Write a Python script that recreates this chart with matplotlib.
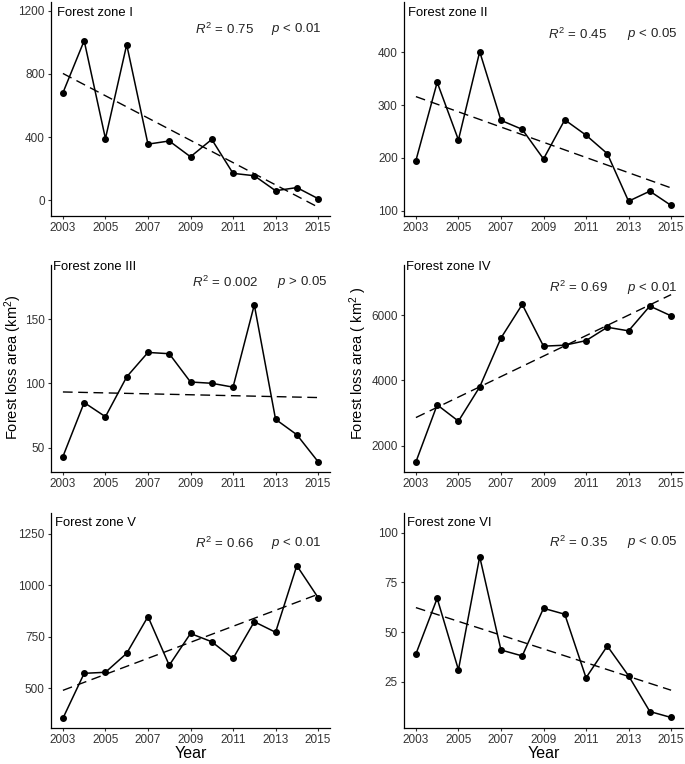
import numpy as np
import matplotlib
matplotlib.use("Agg")
import matplotlib.pyplot as plt

plt.rcParams['font.family'] = ['Liberation Sans', 'DejaVu Sans']
plt.rcParams['mathtext.fontset'] = 'custom'
plt.rcParams['mathtext.rm'] = 'Liberation Sans'
plt.rcParams['mathtext.it'] = 'Liberation Sans:italic'

years = np.arange(2003, 2016)

zona_1 = [680, 1010, 390, 985, 355, 375, 275, 385, 170, 155, 60, 80, 10]
zona_2 = [195, 343, 234, 401, 271, 254, 198, 272, 243, 208, 118, 137, 110]
zona_3 = [43, 85, 74, 105, 124, 123, 101, 100, 97, 161, 72, 60, 39]
zona_4 = [1500, 3250, 2750, 3800, 5300, 6330, 5050, 5080, 5220, 5630, 5520, 6280, 5980]
zona_5 = [355, 573, 578, 670, 848, 612, 766, 726, 645, 823, 772, 1095, 940]
zona_6 = [39, 67, 31, 88, 41, 38, 62, 59, 27, 43, 28, 10, 7]

titulos = ['Forest zone I', 'Forest zone II', 'Forest zone III',
           'Forest zone IV', 'Forest zone V', 'Forest zone VI']
r2 = ['0.75', '0.45', '0.002', '0.69', '0.66', '0.35']
signo = ['<', '<', '>', '<', '<', '<']
pval = ['0.01', '0.05', '0.05', '0.01', '0.01', '0.05']

yticks = [[0, 400, 800, 1200], [100, 200, 300, 400], [50, 100, 150],
          [2000, 4000, 6000], [500, 750, 1000, 1250], [25, 50, 75, 100]]
ylims = [(-100, 1255), (90, 495), (31, 192), (1190, 7540), (308, 1350), (1.7, 110)]

datos = [zona_1, zona_2, zona_3, zona_4, zona_5, zona_6]

W, H = 685, 764
fig = plt.figure(figsize=(W / 100, H / 100), dpi=100)

# panel boxes in pixels: left, top, right, bottom
cajas = [(51, 2, 330, 216), (404, 2, 683, 216),
         (51, 265, 330, 472), (404, 265, 683, 472),
         (51, 513, 330, 728), (404, 513, 683, 728)]
tit_y = [0.95, 0.95, 0.99, 0.99, 0.953, 0.953]
tit_x = [0.02, 0.015, 0.007, 0.007, 0.014, 0.01]
ann_y = [0.874, 0.85, 0.918, 0.89, 0.86, 0.865]
r_x = [0.516, 0.516, 0.505, 0.52, 0.516, 0.52]
p_x = [0.79, 0.80, 0.81, 0.80, 0.79, 0.80]

for i, y in enumerate(datos):
    l, t, r, b = cajas[i]
    ax = fig.add_axes([l / W, 1 - b / H, (r - l) / W, (b - t) / H])
    y = np.array(y)

    ax.plot(years, y, color='black', lw=1.1, marker='o', ms=4.0, zorder=3)
    m, c = np.polyfit(years, y, 1)
    ax.plot(years, m * years + c, color='black', lw=1.0, dashes=(7, 4))

    ax.set_xlim(2002.44, 2015.56)
    ax.set_ylim(*ylims[i])
    ax.set_xticks(np.arange(2003, 2016, 2))
    ax.set_yticks(yticks[i])

    for s in ['top', 'right']:
        ax.spines[s].set_visible(False)
    for s in ['left', 'bottom']:
        ax.spines[s].set_linewidth(0.9)
    ax.tick_params(labelsize=8.5, labelcolor='#333333', length=2.5, width=0.8,
                   color='#333333', pad=2)

    ax.text(tit_x[i], tit_y[i], titulos[i], transform=ax.transAxes,
            fontsize=9.4, va='center', ha='left')
    ax.text(r_x[i], ann_y[i], r'$R^2\,=\,' + r2[i] + '$', transform=ax.transAxes,
            fontsize=9.5, va='center', ha='left', color='#222222')
    ax.text(p_x[i], ann_y[i], r'$p\,' + signo[i] + r'\,' + pval[i] + '$',
            transform=ax.transAxes, fontsize=9.5, va='center', ha='left',
            color='#222222')

    if i >= 4:
        ax.set_xlabel('Year', fontsize=11.5, labelpad=0)

fig.text(13 / W, 1 - 367 / H, r'Forest loss area (km$^2$)', rotation=90,
         fontsize=10.5, va='center', ha='center')
fig.text(358 / W, 1 - 363 / H, r'Forest loss area ( km$^2$ )', rotation=90,
         fontsize=10.5, va='center', ha='center')

fig.savefig('out.png', dpi=100)
